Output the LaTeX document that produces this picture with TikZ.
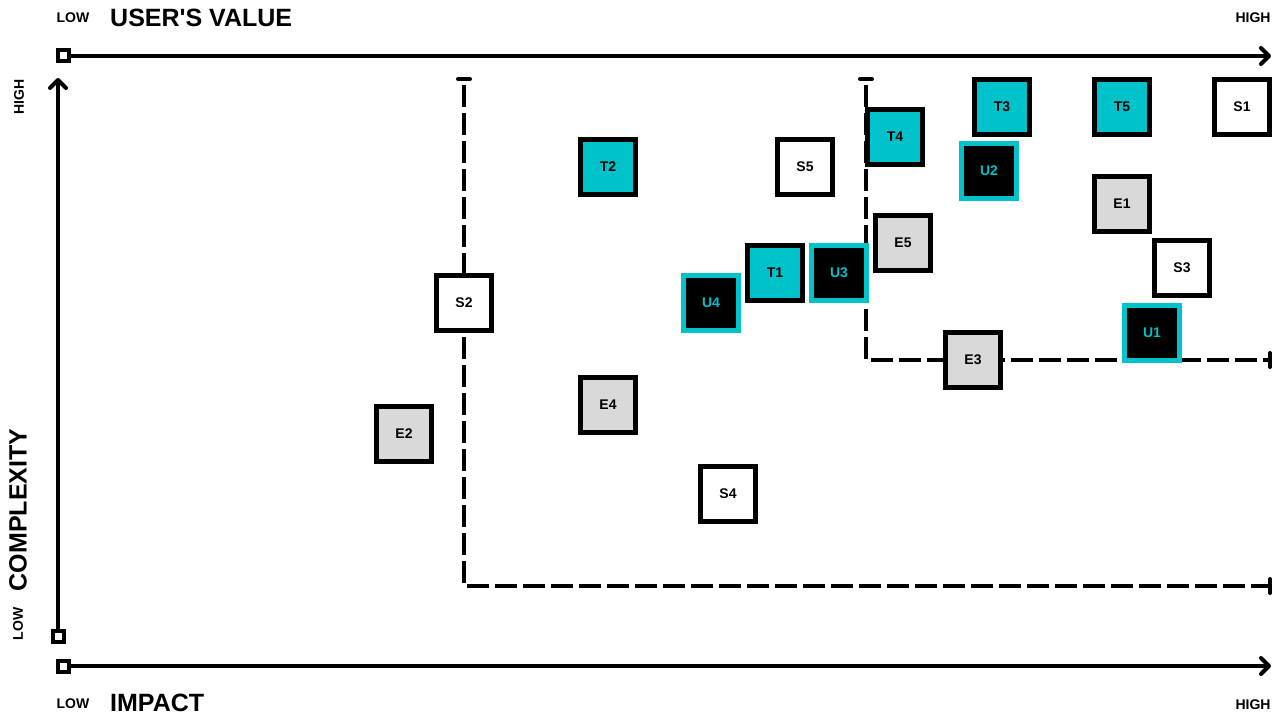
\documentclass[tikz,border=0pt]{standalone}
\usepackage{fontspec}
\setmainfont{Liberation Sans}
\usetikzlibrary{arrows.meta}
\definecolor{tealc}{HTML}{00C2CB}
\definecolor{grayc}{HTML}{D9D9D9}
\begin{document}
\begin{tikzpicture}[x=1pt,y=-1pt,
  box/.style={draw=black,line width=4.5pt,minimum size=55pt,inner sep=0pt,font=\bfseries\fontsize{14}{14}\selectfont},
  wbox/.style={box,fill=white},
  tbox/.style={box,fill=tealc},
  gbox/.style={box,fill=grayc},
  ubox/.style={box,fill=black,draw=tealc,text=tealc},
  axisline/.style={line width=4pt,-{Straight Barb[length=8pt,width=16pt,line width=4pt,round]}},
  axmark/.style={draw=black,fill=white,line width=4pt,minimum size=11pt,inner sep=0pt},
  dsh/.style={line width=4pt,dash pattern=on 22pt off 6pt},
  capline/.style={line width=4pt,line cap=round},
  smalltxt/.style={font=\bfseries\fontsize{14}{14}\selectfont,inner sep=0pt},
  bigtxt/.style={font=\bfseries\fontsize{25}{25}\selectfont,inner sep=0pt},
]
\useasboundingbox (0,0) rectangle (1284,717);

% axis labels
\node[smalltxt] (lowtop) at (73,18) {LOW};
\node[bigtxt,anchor=west] (uv) at (110,18) {USER\textquotesingle S VALUE};
\node[smalltxt] (hightop) at (1253,18) {HIGH};
\node[smalltxt] (lowbot) at (73,704) {LOW};
\node[bigtxt,anchor=west] (imp) at (110,703) {IMPACT};
\node[smalltxt] (highbot) at (1253,705) {HIGH};
\node[smalltxt,rotate=90] (highleft) at (19,97) {HIGH};
\node[bigtxt,rotate=90] (cx) at (18,510) {COMPLEXITY};
\node[smalltxt,rotate=90] (lowleft) at (18,624) {LOW};

% dashed quadrant lines
\coordinate (d1t) at (464,79);
\coordinate (d1c) at (464,586);
\coordinate (d1e) at (1270,586);
\coordinate (d2t) at (866,79);
\coordinate (d2c) at (866,360);
\coordinate (d2e) at (1270,360);
\draw[dsh,dash phase=22pt] (d1t) -- (d1c) -- (d1e);
\draw[dsh,dash phase=22pt] (d2t) -- (d2c) -- (d2e);
\draw[capline] ([xshift=-6pt]d1t) -- ([xshift=6pt]d1t);
\draw[capline] ([xshift=-6pt]d2t) -- ([xshift=6pt]d2t);
\draw[capline] ([yshift=-7pt]d1e) -- ([yshift=7pt]d1e);
\draw[capline] ([yshift=-7pt]d2e) -- ([yshift=7pt]d2e);

% axes
\node[axmark] (mtop) at (63,56) {};
\coordinate (atop) at (1271,56);
\draw[axisline] (mtop.east) -- (atop);
\node[axmark] (mleft) at (58,636) {};
\coordinate (aleft) at (58,78);
\draw[axisline] (mleft.north) -- (aleft);
\node[axmark] (mbot) at (63,666) {};
\coordinate (abot) at (1271,666);
\draw[axisline] (mbot.east) -- (abot);

% items
\node[wbox] (S1) at (1242,107) {S1};
\node[tbox] (T3) at (1002,107) {T3};
\node[tbox] (T5) at (1122,107) {T5};
\node[tbox] (T4) at (895,137) {T4};
\node[ubox] (U2) at (989,171) {U2};
\node[tbox] (T2) at (608,167) {T2};
\node[wbox] (S5) at (805,167) {S5};
\node[gbox] (E1) at (1122,204) {E1};
\node[gbox] (E5) at (903,243) {E5};
\node[wbox] (S3) at (1182,268) {S3};
\node[tbox] (T1) at (775,273) {T1};
\node[ubox] (U3) at (839,273) {U3};
\node[ubox] (U4) at (711,303) {U4};
\node[wbox] (S2) at (464,303) {S2};
\node[ubox] (U1) at (1152,333) {U1};
\node[gbox] (E3) at (973,360) {E3};
\node[gbox] (E4) at (608,405) {E4};
\node[gbox] (E2) at (404,434) {E2};
\node[wbox] (S4) at (728,494) {S4};
\end{tikzpicture}
\end{document}
